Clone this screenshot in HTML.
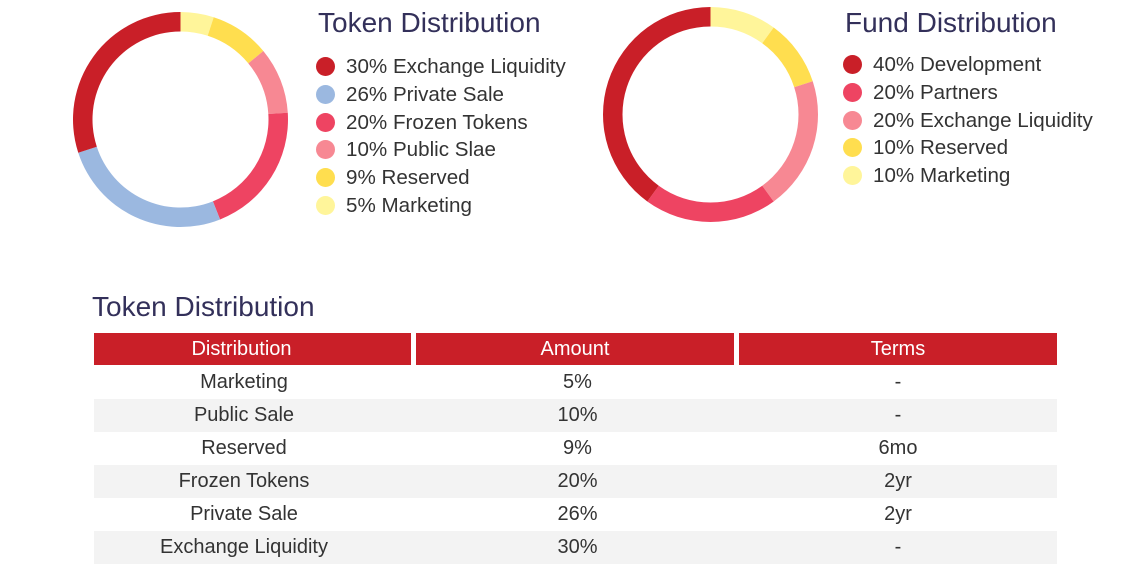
<!DOCTYPE html>
<html><head><meta charset="utf-8"><style>
body{margin:0;width:1135px;height:568px;background:#fff;font-family:"Liberation Sans",sans-serif;position:relative;overflow:hidden}
.t{position:absolute;color:#33305a;font-size:28px;white-space:nowrap}
.leg{position:absolute;font-size:20.6px;color:#333;white-space:nowrap}
.leg div{height:27.8px;line-height:27.8px;position:relative;padding-left:30px}
.leg span.d{position:absolute;left:0;top:4px;width:19px;height:19px;border-radius:50%}
table{position:absolute;left:94px;top:333px;border-collapse:separate;border-spacing:0;font-size:20px;color:#333;table-layout:fixed;width:963px}
th{background:#c91f28;color:#fff;font-weight:normal;height:32px;padding:0;border-bottom:1px solid #fff}
th.s{border-right:5px solid #fff}
td{height:33px;text-align:center;padding:0}
.c1{padding-right:22px;box-sizing:border-box}
tr.g td{background:#f3f3f3}
</style></head><body>
<svg width="1135" height="568" style="position:absolute;left:0;top:0">
<g id="d1"></g>
<g id="d2"></g>
</svg>
<div class="t" style="left:318px;top:7px">Token Distribution</div>
<div class="leg" style="left:316px;top:53px">
<div><span class="d" style="background:#c91f28"></span>30% Exchange Liquidity</div>
<div><span class="d" style="background:#9bb8e0"></span>26% Private Sale</div>
<div><span class="d" style="background:#ee4462"></span>20% Frozen Tokens</div>
<div><span class="d" style="background:#f78893"></span>10% Public Slae</div>
<div><span class="d" style="background:#ffde4f"></span>9% Reserved</div>
<div><span class="d" style="background:#fff59a"></span>5% Marketing</div>
</div>
<div class="t" style="left:845px;top:7px">Fund Distribution</div>
<div class="leg" style="left:843px;top:51px">
<div><span class="d" style="background:#c91f28"></span>40% Development</div>
<div><span class="d" style="background:#ee4462"></span>20% Partners</div>
<div><span class="d" style="background:#f78893"></span>20% Exchange Liquidity</div>
<div><span class="d" style="background:#ffde4f"></span>10% Reserved</div>
<div><span class="d" style="background:#fff59a"></span>10% Marketing</div>
</div>
<div class="t" style="left:92px;top:291px">Token Distribution</div>
<table>
<colgroup><col style="width:322px"><col style="width:323px"><col style="width:318px"></colgroup>
<tr><th class="s c1">Distribution</th><th class="s">Amount</th><th>Terms</th></tr>
<tr><td class="c1">Marketing</td><td>5%</td><td>-</td></tr>
<tr class="g"><td class="c1">Public Sale</td><td>10%</td><td>-</td></tr>
<tr><td class="c1">Reserved</td><td>9%</td><td>6mo</td></tr>
<tr class="g"><td class="c1">Frozen Tokens</td><td>20%</td><td>2yr</td></tr>
<tr><td class="c1">Private Sale</td><td>26%</td><td>2yr</td></tr>
<tr class="g"><td class="c1">Exchange Liquidity</td><td>30%</td><td>-</td></tr>
</table>
<script>
const tokenLabels=["Marketing","Reserved","Public Sale","Frozen Tokens","Private Sale","Exchange Liquidity"];
const tokenValues=[5,9,10,20,26,30];
const tokenColors=["#fff59a","#ffde4f","#f78893","#ee4462","#9bb8e0","#c91f28"];
const fundLabels=["Marketing","Reserved","Exchange Liquidity","Partners","Development"];
const fundValues=[10,10,20,20,40];
const fundColors=["#fff59a","#ffde4f","#f78893","#ee4462","#c91f28"];
function donut(gid,vals,cols,labels,cx,cy){
  const g=document.getElementById(gid);const ro=107.5,ri=88;
  const tot=vals.reduce((a,b)=>a+b,0);let acc=0;
  const pt=(r,a)=>[cx+r*Math.sin(a),cy-r*Math.cos(a)];
  vals.forEach((v,i)=>{
    const a0=acc/tot*2*Math.PI;acc+=v;const a1=acc/tot*2*Math.PI;
    const lg=(a1-a0)>Math.PI?1:0;
    const [x0,y0]=pt(ro,a0),[x1,y1]=pt(ro,a1),[x2,y2]=pt(ri,a1),[x3,y3]=pt(ri,a0);
    const p=document.createElementNS("http://www.w3.org/2000/svg","path");
    p.setAttribute("d",`M${x0} ${y0}A${ro} ${ro} 0 ${lg} 1 ${x1} ${y1}L${x2} ${y2}A${ri} ${ri} 0 ${lg} 0 ${x3} ${y3}Z`);
    p.setAttribute("fill",cols[i]);
    
    
    g.appendChild(p);
  });
}
donut("d1",tokenValues,tokenColors,tokenLabels,180.5,119.5);
donut("d2",fundValues,fundColors,fundLabels,710.5,114.5);
</script>
</body></html>
